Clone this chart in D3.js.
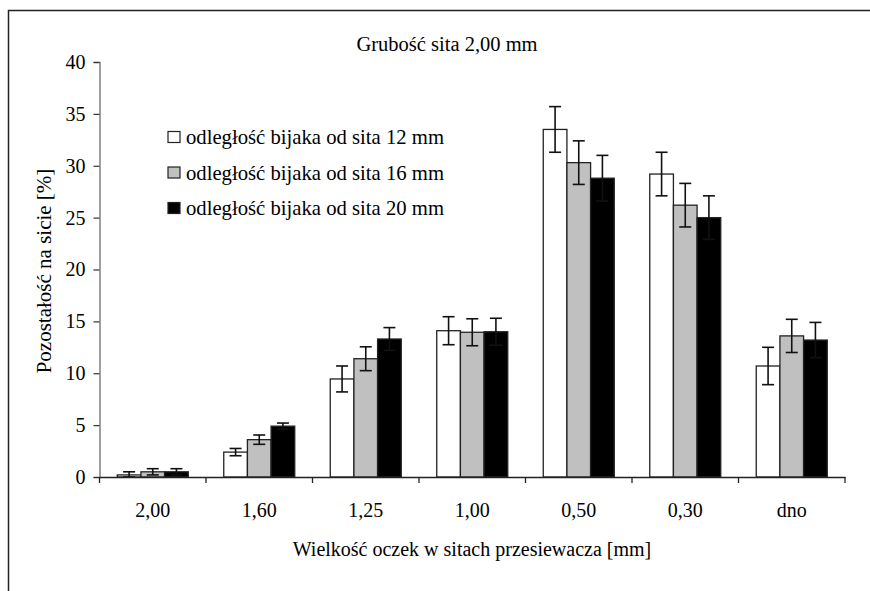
<!DOCTYPE html>
<html>
<head>
<meta charset="utf-8">
<script src="https://cdn.jsdelivr.net/npm/d3@7"></script>
<style>
  body { margin: 0; background: #fff; }
  svg { display: block; }
  svg text { font-family: "Liberation Serif", "Times New Roman", serif; }
</style>
</head>
<body>
<svg width="870" height="591"></svg>
<script>
const categories = ["2,00", "1,60", "1,25", "1,00", "0,50", "0,30", "dno"];
const seriesNames = [
  "odległość bijaka od sita 12 mm",
  "odległość bijaka od sita 16 mm",
  "odległość bijaka od sita 20 mm"
];
const values12 = [0.2, 2.4, 9.45, 14.1, 33.5, 29.2, 10.7];
const values16 = [0.5, 3.6, 11.4, 13.95, 30.3, 26.2, 13.6];
const values20 = [0.5, 4.9, 13.3, 14.0, 28.8, 25.0, 13.2];
const err12 = [0.3, 0.35, 1.25, 1.35, 2.2, 2.1, 1.8];
const err16 = [0.3, 0.45, 1.15, 1.3, 2.1, 2.1, 1.6];
const err20 = [0.3, 0.3, 1.1, 1.3, 2.2, 2.1, 1.7];
const yTicks = [0, 5, 10, 15, 20, 25, 30, 35, 40];

const fills = ["#ffffff", "#c0c0c0", "#000000"];
const series = [
  { name: seriesNames[0], values: values12, err: err12 },
  { name: seriesNames[1], values: values16, err: err16 },
  { name: seriesNames[2], values: values20, err: err20 }
];

const svg = d3.select("svg");
const margin = { left: 99.5, right: 845, top: 62, bottom: 477 };

// outer frame (Excel chart area, only top and left visible)
svg.append("path")
   .attr("d", "M8.5,591 V10.5 H870")
   .attr("fill", "none")
   .attr("stroke", "#222")
   .attr("stroke-width", 1.5);

const x = d3.scaleBand()
  .domain(categories)
  .range([margin.left, margin.right])
  .paddingInner(0)
  .paddingOuter(0);

const xInner = d3.scaleBand()
  .domain(d3.range(series.length))
  .range([0, x.bandwidth()])
  .paddingOuter(0.75)
  .paddingInner(0);

const y = d3.scaleLinear()
  .domain([0, 40])
  .range([margin.bottom, margin.top]);

// bars
const groups = svg.append("g")
  .selectAll("g")
  .data(categories)
  .join("g")
    .attr("transform", c => `translate(${x(c)},0)`);

groups.selectAll("rect")
  .data((c, i) => series.map((s, k) => ({ k, v: s.values[i], e: s.err[i] })))
  .join("rect")
    .attr("x", d => xInner(d.k))
    .attr("y", d => y(d.v))
    .attr("width", xInner.bandwidth())
    .attr("height", d => y(0) - y(d.v))
    .attr("fill", d => fills[d.k])
    .attr("stroke", "#222")
    .attr("stroke-width", 1.3);

// error bars
const eb = groups.selectAll("g.err")
  .data((c, i) => series.map((s, k) => ({ k, v: s.values[i], e: s.err[i] })))
  .join("g")
    .attr("class", "err")
    .attr("stroke", "#111")
    .attr("stroke-width", 1.6);

eb.append("line")
  .attr("x1", d => xInner(d.k) + xInner.bandwidth() / 2)
  .attr("x2", d => xInner(d.k) + xInner.bandwidth() / 2)
  .attr("y1", d => y(d.v + d.e))
  .attr("y2", d => y(Math.max(0, d.v - d.e)));

eb.selectAll("line.cap")
  .data(d => [d.v + d.e, Math.max(0, d.v - d.e)].map(t => ({ k: d.k, t })))
  .join("line")
    .attr("class", "cap")
    .attr("x1", d => xInner(d.k) + xInner.bandwidth() / 2 - 6)
    .attr("x2", d => xInner(d.k) + xInner.bandwidth() / 2 + 6)
    .attr("y1", d => y(d.t))
    .attr("y2", d => y(d.t));

// y axis
const yAxis = svg.append("g")
  .attr("transform", `translate(${margin.left},0)`)
  .call(d3.axisLeft(y).tickValues(yTicks).tickSize(6).tickPadding(8).tickFormat(d3.format("d")));
yAxis.select(".domain").attr("stroke", "#808080").attr("stroke-width", 1.5);
yAxis.selectAll(".tick line").attr("stroke", "#333").attr("stroke-width", 1.2);
yAxis.selectAll("text")
  .attr("font-size", 20)
  .attr("fill", "#000");

// x axis
const xAxis = svg.append("g")
  .attr("transform", `translate(0,${margin.bottom})`)
  .call(d3.axisBottom(x).tickSize(0).tickPadding(26));
xAxis.select(".domain").attr("stroke", "#222").attr("stroke-width", 1.5);
xAxis.selectAll("text")
  .attr("font-size", 20)
  .attr("fill", "#000");

// x category boundary ticks
svg.append("g")
  .selectAll("line")
  .data(d3.range(categories.length + 1))
  .join("line")
    .attr("x1", i => margin.left + i * x.bandwidth())
    .attr("x2", i => margin.left + i * x.bandwidth())
    .attr("y1", margin.bottom)
    .attr("y2", margin.bottom + 6)
    .attr("stroke", "#222")
    .attr("stroke-width", 1.3);

// title
svg.append("text")
  .attr("x", 447)
  .attr("y", 51)
  .attr("text-anchor", "middle")
  .attr("font-size", 20.5)
  .text("Grubość sita 2,00 mm");

// axis titles
svg.append("text")
  .attr("x", 472)
  .attr("y", 556)
  .attr("text-anchor", "middle")
  .attr("font-size", 20)
  .text("Wielkość oczek w sitach przesiewacza [mm]");

svg.append("text")
  .attr("transform", "translate(51,271) rotate(-90)")
  .attr("text-anchor", "middle")
  .attr("font-size", 21)
  .text("Pozostałość na sicie [%]");

// legend
const legend = svg.append("g")
  .selectAll("g")
  .data(series)
  .join("g")
    .attr("transform", (d, i) => `translate(168,${137 + i * 35.5})`);

legend.append("rect")
  .attr("x", 0)
  .attr("y", -5.5)
  .attr("width", 12)
  .attr("height", 11)
  .attr("fill", (d, i) => fills[i])
  .attr("stroke", "#222")
  .attr("stroke-width", 1.2);

legend.append("text")
  .attr("x", 18)
  .attr("y", 7)
  .attr("font-size", 20.7)
  .text(d => d.name);
</script>
</body>
</html>
